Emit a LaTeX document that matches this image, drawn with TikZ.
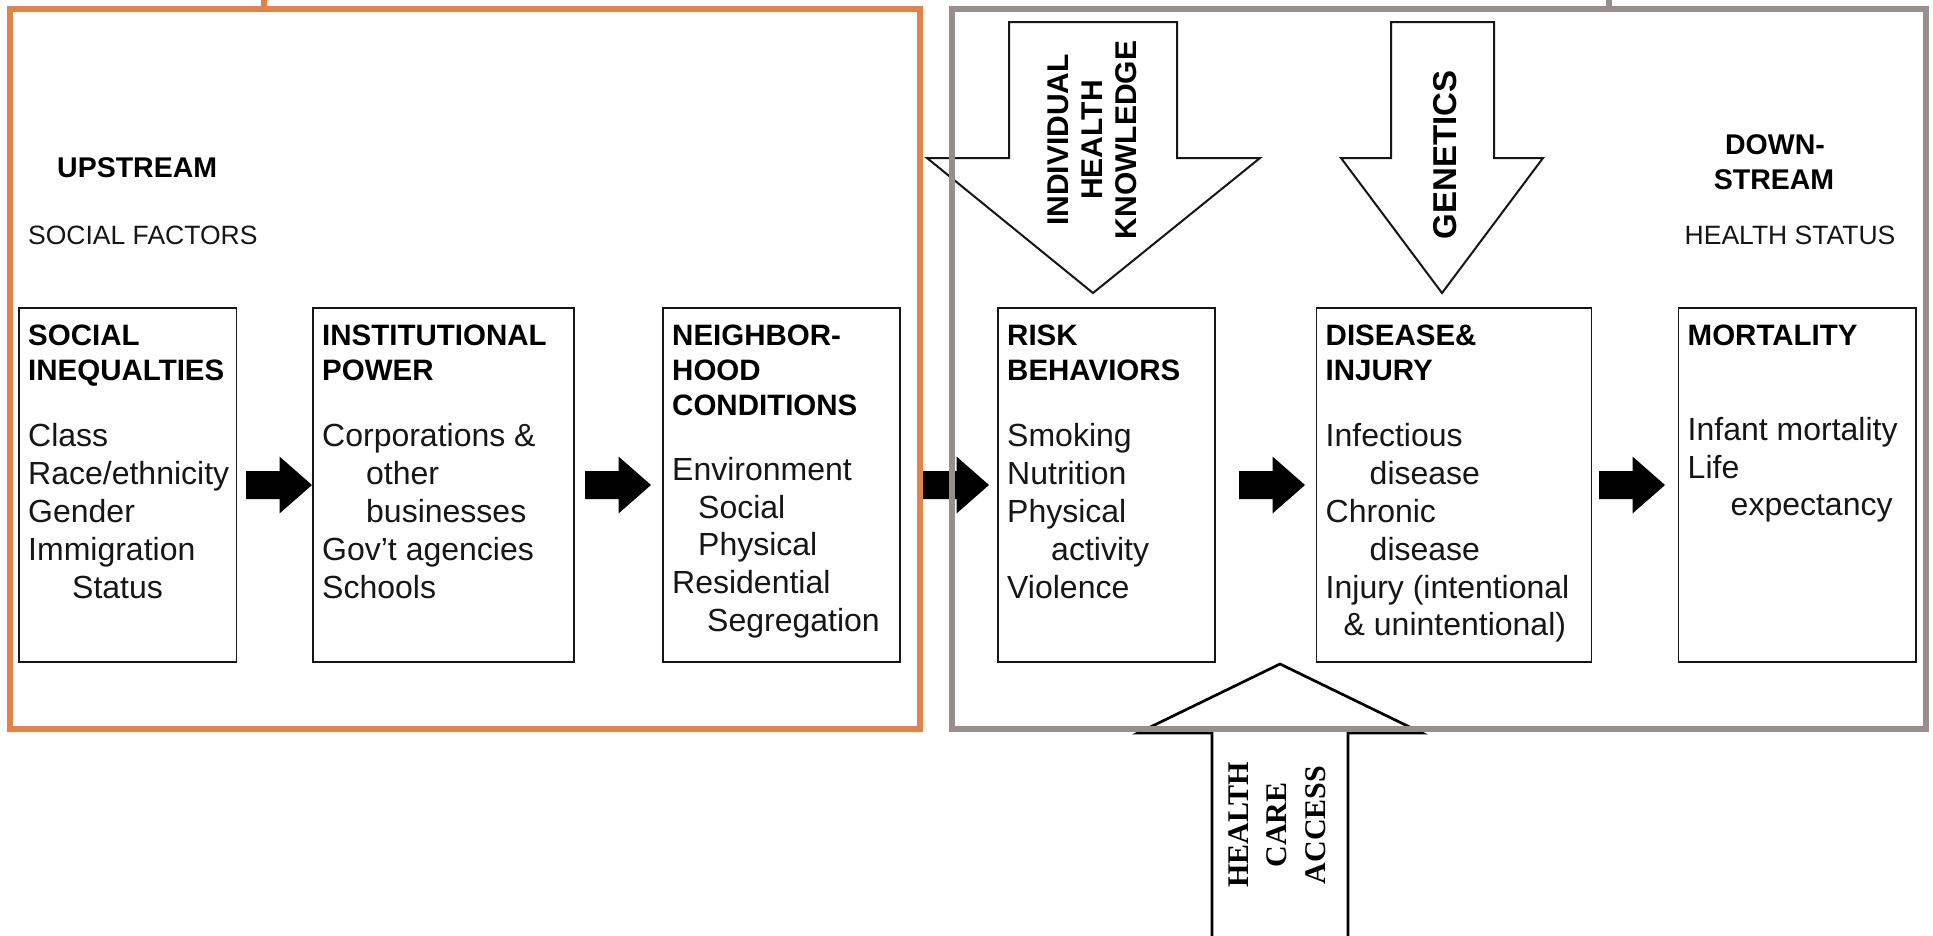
\documentclass[tikz,border=0pt]{standalone}
\usepackage{fontspec}
\setmainfont{Liberation Sans}
\newfontfamily\tnr{Liberation Serif}
\usetikzlibrary{calc}

\definecolor{upframe}{RGB}{226,131,74}
\definecolor{downframe}{RGB}{152,142,142}
\definecolor{ink}{RGB}{22,22,22}

% strut that fixes the height of the first line of a text block
\newcommand{\firstline}[1]{\rule{0pt}{#1pt}}

% solid black block arrow, 66pt long, starting at the given point
\newcommand{\fatarrow}[1]{%
  \fill[fatarrow] #1 ++(0,-14) -- ++(33.5,0) -- ++(0,-14.5) -- ++(32.5,28.5)
    -- ++(-32.5,28.5) -- ++(0,-14.5) -- ++(-33.5,0) -- cycle;}

\tikzset{
  stagebox/.style={draw=ink, line width=1.8pt, inner sep=0pt, outer sep=0pt,
    minimum height=354pt, anchor=north west},
  headtext/.style={anchor=north west, inner sep=0pt, align=left, text=black,
    font=\fontsize{29.5}{35}\selectfont\bfseries},
  bodytext/.style={anchor=north west, inner sep=0pt, align=left, text=ink,
    font=\fontsize{32}{37.8}\selectfont},
  frame/.style={line width=6pt, inner sep=0pt, outer sep=0pt},
  fatarrow/.style={fill=black},
  bigarrow/.style={draw=ink, line width=2pt, fill=white, line join=miter},
  arrowlabel/.style={rotate=90, align=center, inner sep=0pt,
    font=\fontsize{30}{34}\selectfont\bfseries},
  sidelabel/.style={inner sep=0pt, text=ink, font=\fontsize{26.5}{30}\selectfont},
  sidetitle/.style={inner sep=0pt, text=black, font=\fontsize{28.5}{30}\selectfont\bfseries},
}

\begin{document}
\begin{tikzpicture}[x=1pt, y=-1pt]
\useasboundingbox (0,0) rectangle (1933,935);
\fill[white] (0,0) rectangle (1933,935);

% stage boxes
\node[stagebox, minimum width=217.5pt] (b1) at (19,308) {};
\node[stagebox, minimum width=261pt]   (b2) at (313,308) {};
\node[stagebox, minimum width=237pt]   (b3) at (663,308) {};
\node[stagebox, minimum width=217pt]   (b4) at (998,308) {};
\node[stagebox, minimum width=275pt]   (b5) at (1316.5,308) {};
\node[stagebox, minimum width=237.5pt] (b6) at (1678.5,308) {};

% box titles
\node[headtext] (h1) at ([xshift=9pt,yshift=-12pt]b1.north west) {\firstline{25}SOCIAL\\INEQUALTIES};
\node[headtext] (h2) at ([xshift=9pt,yshift=-12pt]b2.north west) {\firstline{25}INSTITUTIONAL\\POWER};
\node[headtext] (h3) at ([xshift=9pt,yshift=-12pt]b3.north west) {\firstline{25}NEIGHBOR-\\HOOD\\CONDITIONS};
\node[headtext] (h4) at ([xshift=9pt,yshift=-12pt]b4.north west) {\firstline{25}RISK\\BEHAVIORS};
\node[headtext] (h5) at ([xshift=9pt,yshift=-12pt]b5.north west) {\firstline{25}DISEASE\&\\INJURY};
\node[headtext] (h6) at ([xshift=9pt,yshift=-12pt]b6.north west) {\firstline{25}MORTALITY};

% box contents
\node[bodytext] (t1) at ([xshift=9pt,yshift=-112.7pt]b1.north west)
  {\firstline{26}Class\\Race/ethnicity\\Gender\\Immigration\\\hspace*{44pt}Status};
\node[bodytext] (t2) at ([xshift=9pt,yshift=-112.7pt]b2.north west)
  {\firstline{26}Corporations \&\\\hspace*{44pt}other\\\hspace*{44pt}businesses\\Gov't agencies\\Schools};
\node[bodytext] (t3) at ([xshift=9pt,yshift=-146pt]b3.north west)
  {\firstline{26}Environment\\\hspace*{26pt}Social\\\hspace*{26pt}Physical\\Residential\\\hspace*{35pt}Segregation};
\node[bodytext] (t4) at ([xshift=9pt,yshift=-112.7pt]b4.north west)
  {\firstline{26}Smoking\\Nutrition\\Physical\\\hspace*{44pt}activity\\Violence};
\node[bodytext] (t5) at ([xshift=9pt,yshift=-112.7pt]b5.north west)
  {\firstline{26}Infectious\\\hspace*{44pt}disease\\Chronic\\\hspace*{44pt}disease\\Injury (intentional\\\hspace*{18pt}\& unintentional)};
\node[bodytext] (t6) at ([xshift=9pt,yshift=-106pt]b6.north west)
  {\firstline{26}Infant mortality\\Life\\\hspace*{43pt}expectancy};

% block arrows between the stages
\fatarrow{([xshift=9.5pt]b1.east)}
\fatarrow{([xshift=11pt]b2.east)}
\fatarrow{([xshift=23pt]b3.east)}
\fatarrow{([xshift=24pt]b4.east)}
\fatarrow{([xshift=7.5pt]b5.east)}

% influences from above
\draw[bigarrow] (1009,22) -- (1177,22) -- (1177,158) -- (1260,158) -- (1093,293)
  -- (927,158) -- (1009,158) -- cycle;
\node[arrowlabel] (ihk) at (1092,140) {INDIVIDUAL\\HEALTH\\KNOWLEDGE};
\draw[bigarrow] (1391,22) -- (1494,22) -- (1494,158) -- (1543,158) -- (1442,293)
  -- (1341,158) -- (1391,158) -- cycle;
\node[arrowlabel, font=\fontsize{33}{36}\selectfont\bfseries] (gen) at (1445,155) {GENETICS};

% influence from below
\draw[bigarrow, line width=2.7pt, draw=black] (1212,950) -- (1212,733) -- (1138,733) -- (1280,664)
  -- (1422,733) -- (1348,733) -- (1348,950);
\node[arrowlabel, font=\tnr\fontsize{30}{38.7}\selectfont\bfseries] (hca) at (1277,825) {HEALTH\\CARE\\ACCESS};

% upstream / downstream frames
\node[frame, draw=upframe, minimum width=910pt, minimum height=719.5pt] (upfr) at (465,368.75) {};
\node[frame, draw=downframe, minimum width=974pt, minimum height=720pt] (dnfr) at (1439,369) {};
\coordinate (upstub) at (264,0);
\coordinate (dnstub) at (1609,0);
\draw[upframe, line width=5.7pt] (upfr.north -| upstub) -- (upstub);
\draw[downframe, line width=5.7pt] (dnfr.north -| dnstub) -- (dnstub);

% side captions
\node[sidetitle, anchor=base west] (ups) at (57,177) {UPSTREAM};
\node[sidelabel, anchor=base west] (sf) at (28,244) {SOCIAL FACTORS};
\node[sidetitle, anchor=base] (dn1) at (1775,154) {DOWN-};
\node[sidetitle, anchor=base] (dn2) at (1774,189.3) {STREAM};
\node[sidelabel, anchor=base] (hs) at (1790,244) {HEALTH STATUS};
\end{tikzpicture}
\end{document}
